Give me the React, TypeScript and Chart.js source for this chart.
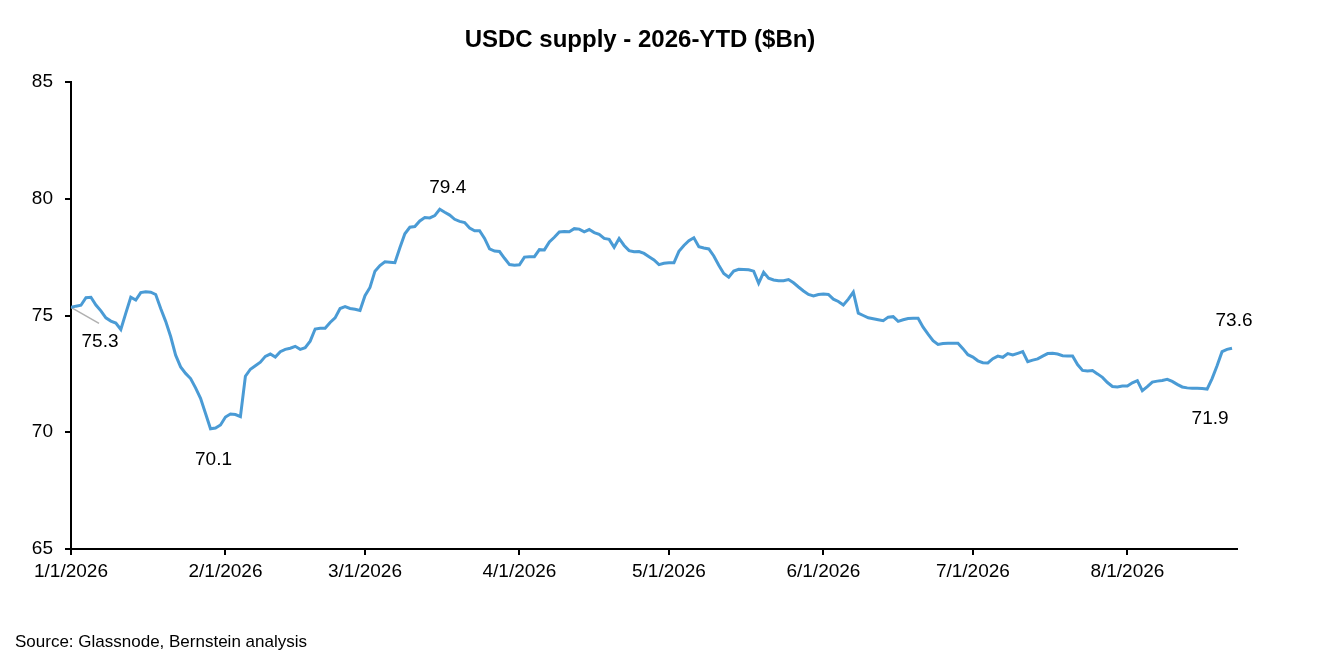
import React, { useEffect, useRef } from "react";
import { Chart, registerables } from "chart.js";

Chart.register(...registerables);

// Daily USDC supply ($Bn), day 0 = 1/1/2026
const supply = [
  75.35, 75.40, 75.44, 75.76, 75.78, 75.45, 75.20, 74.90, 74.76, 74.68,
  74.40, 75.10, 75.78, 75.66, 75.98, 76.02, 76.00, 75.90, 75.30, 74.75,
  74.10, 73.30, 72.80, 72.52, 72.30, 71.90, 71.45, 70.80, 70.15, 70.18,
  70.31, 70.65, 70.78, 70.76, 70.67, 72.40, 72.70, 72.85, 73.00, 73.25,
  73.35, 73.22, 73.45, 73.55, 73.60, 73.68, 73.55, 73.62, 73.90, 74.42,
  74.45, 74.45, 74.70, 74.90, 75.30, 75.38, 75.30, 75.27, 75.22, 75.85,
  76.20, 76.90, 77.14, 77.30, 77.28, 77.26, 77.90, 78.50, 78.78, 78.81,
  79.05, 79.20, 79.18, 79.28, 79.55, 79.42, 79.30, 79.12, 79.03, 78.98,
  78.75, 78.63, 78.63, 78.30, 77.85, 77.76, 77.74, 77.45, 77.18, 77.15,
  77.17, 77.50, 77.52, 77.52, 77.82, 77.81, 78.15, 78.35, 78.58, 78.60,
  78.59, 78.72, 78.70, 78.58, 78.68, 78.55, 78.48, 78.30, 78.26, 77.92,
  78.30, 78.00, 77.78, 77.73, 77.74, 77.66, 77.52, 77.38, 77.18, 77.24,
  77.26, 77.26, 77.75, 78.00, 78.20, 78.33, 77.95, 77.89, 77.85, 77.55,
  77.15, 76.80, 76.64, 76.90, 76.98, 76.97, 76.96, 76.90, 76.38, 76.85,
  76.60, 76.52, 76.49, 76.49, 76.54, 76.40, 76.22, 76.05, 75.90, 75.84,
  75.90, 75.92, 75.90, 75.70, 75.60, 75.45, 75.70, 76.00, 75.10, 75.00,
  74.90, 74.86, 74.82, 74.78, 74.93, 74.95, 74.75, 74.82, 74.87, 74.88,
  74.88, 74.50, 74.20, 73.92, 73.76, 73.80, 73.81, 73.81, 73.81, 73.58,
  73.32, 73.22, 73.06, 72.98, 72.97, 73.15, 73.26, 73.21, 73.37, 73.31,
  73.38, 73.45, 73.02, 73.09, 73.14, 73.26, 73.37, 73.38, 73.35, 73.28,
  73.27, 73.27, 72.90, 72.65, 72.62, 72.64, 72.50, 72.35, 72.13, 71.96,
  71.94, 71.98, 71.98, 72.12, 72.21, 71.78, 71.95, 72.15, 72.19, 72.22,
  72.27, 72.18, 72.05, 71.94, 71.90, 71.88, 71.88, 71.87, 71.85, 72.30,
  72.85, 73.45, 73.55, 73.60,
];

const monthStartDays = [0, 31, 59, 90, 120, 151, 181, 212];
const monthLabels = [
  "1/1/2026", "2/1/2026", "3/1/2026", "4/1/2026",
  "5/1/2026", "6/1/2026", "7/1/2026", "8/1/2026",
];
const yTicks = [65, 70, 75, 80, 85];

const annotDays = [0, 28, 74, 233, 228];
const annotLabels = ["75.3", "70.1", "79.4", "73.6", "71.9"];

const titleText = "USDC supply - 2026-YTD ($Bn)";
const sourceText = "Source: Glassnode, Bernstein analysis";

const FONT = "'Liberation Sans', Arial, Helvetica, sans-serif";

export default function App() {
  const ref = useRef<HTMLCanvasElement>(null);

  useEffect(() => {
    document.body.style.margin = "0";
    const canvas = ref.current!;

    // label offsets (px) from their data point
    const annotStyle = [
      { dx: 29, dy: 34, leader: [28, 16] as number[] | null },
      { dx: 3, dy: 31, leader: null },
      { dx: 8, dy: -21, leader: null },
      { dx: 2, dy: -27, leader: null },
      { dx: 3, dy: 30, leader: null },
    ];

    const overlay = {
      id: "overlay",
      beforeDatasetsDraw(chart: any) {
        const ctx = chart.ctx;
        const xs = chart.scales.x;
        const ys = chart.scales.y;
        ctx.save();
        annotDays.forEach((d, i) => {
          const st = annotStyle[i];
          if (!st.leader) return;
          const px = xs.getPixelForValue(d);
          const py = ys.getPixelForValue(supply[d]);
          ctx.strokeStyle = "#b0b0b0";
          ctx.lineWidth = 1.5;
          ctx.beginPath();
          ctx.moveTo(px, py);
          ctx.lineTo(px + st.leader[0], py + st.leader[1]);
          ctx.stroke();
        });
        ctx.restore();
      },
      afterDatasetsDraw(chart: any) {
        const ctx = chart.ctx;
        const xs = chart.scales.x;
        const ys = chart.scales.y;
        ctx.save();
        ctx.fillStyle = "#000";
        ctx.font = `19px ${FONT}`;
        ctx.textAlign = "center";
        ctx.textBaseline = "middle";
        annotDays.forEach((d, i) => {
          const st = annotStyle[i];
          const px = xs.getPixelForValue(d);
          const py = ys.getPixelForValue(supply[d]);
          ctx.fillText(annotLabels[i], px + st.dx, py + st.dy);
        });
        // title
        ctx.font = `bold 24px ${FONT}`;
        ctx.fillText(titleText, 640, 40);
        // source
        ctx.font = `17px ${FONT}`;
        ctx.textAlign = "left";
        ctx.fillText(sourceText, 15, 642);
        ctx.restore();
      },
    };

    const chart = new Chart(canvas, {
      type: "line",
      data: {
        datasets: [
          {
            data: supply.map((v, i) => ({ x: i, y: v })),
            borderColor: "#4A9BD5",
            borderWidth: 3,
            pointRadius: 0,
            tension: 0,
            fill: false,
          },
        ],
      },
      options: {
        responsive: false,
        animation: false,
        devicePixelRatio: 1,
        layout: { padding: { top: 82, right: 83, left: 0, bottom: 0 } },
        plugins: {
          legend: { display: false },
          title: { display: false },
          tooltip: { enabled: false },
        },
        scales: {
          x: {
            type: "linear",
            min: 0,
            max: 234,
            afterBuildTicks: (scale: any) => {
              scale.ticks = monthStartDays.map((v) => ({ value: v }));
            },
            afterFit: (scale: any) => {
              scale.height = 105;
              scale.paddingLeft = 0;
              scale.paddingRight = 0;
            },
            ticks: {
              autoSkip: false,
              maxRotation: 0,
              padding: 5,
              color: "#000",
              font: { family: FONT, size: 19 },
              callback: (value: any) => {
                const idx = monthStartDays.indexOf(Number(value));
                return idx >= 0 ? monthLabels[idx] : "";
              },
            },
            grid: {
              display: true,
              drawOnChartArea: false,
              drawTicks: true,
              tickLength: 6,
              color: "#000",
              lineWidth: 2,
            },
            border: { display: true, color: "#000", width: 2 },
          },
          y: {
            type: "linear",
            min: 65,
            max: 85,
            afterBuildTicks: (scale: any) => {
              scale.ticks = yTicks.map((v) => ({ value: v }));
            },
            afterFit: (scale: any) => {
              scale.width = 71;
            },
            ticks: {
              padding: 12,
              color: "#000",
              font: { family: FONT, size: 19 },
              callback: (value: any) => String(value),
            },
            grid: {
              display: true,
              drawOnChartArea: false,
              drawTicks: true,
              tickLength: 6,
              color: "#000",
              lineWidth: 2,
            },
            border: { display: true, color: "#000", width: 2 },
          },
        },
      },
      plugins: [overlay],
    });

    return () => chart.destroy();
  }, []);

  return (
    <div style={{ width: 1320, height: 654, background: "#fff" }}>
      <canvas ref={ref} width={1320} height={654} style={{ display: "block" }} />
    </div>
  );
}
